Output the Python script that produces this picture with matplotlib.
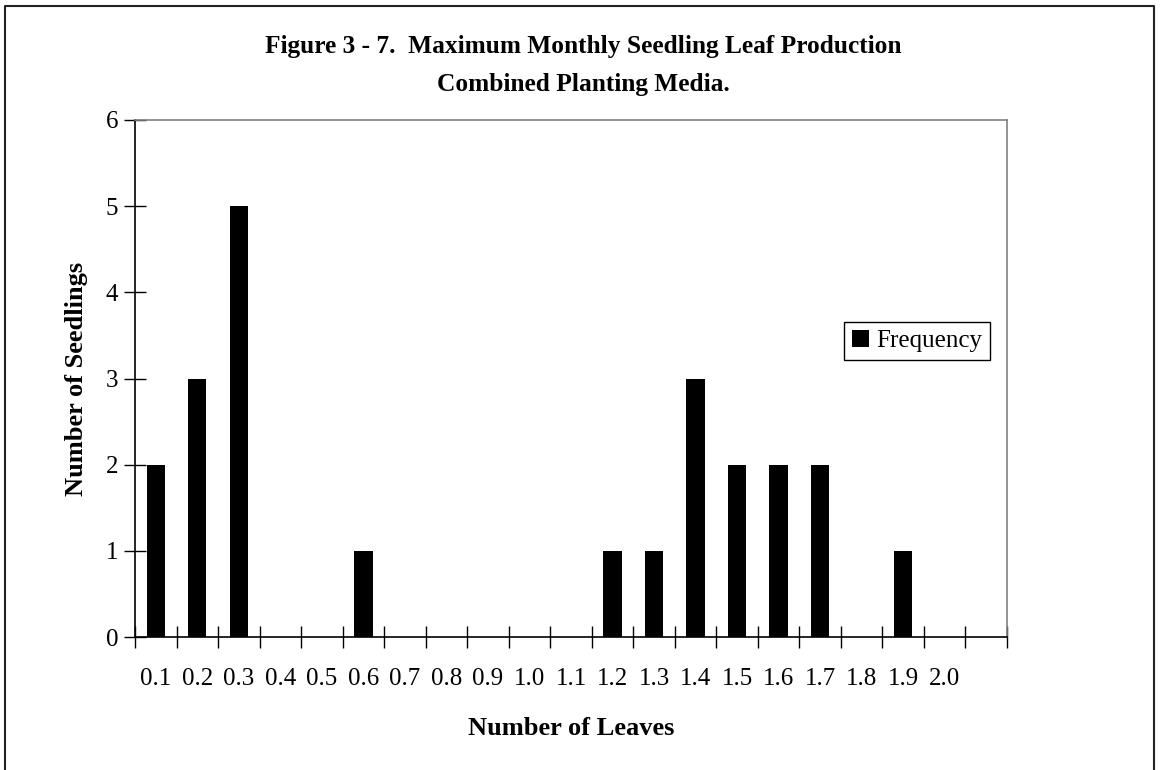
import matplotlib
matplotlib.use("Agg")
import matplotlib.pyplot as plt
from matplotlib.lines import Line2D
import numpy as np

plt.rcParams['font.family'] = ['Liberation Serif', 'DejaVu Serif']

# histogram bins (last slot is Excel's empty overflow bin)
categories = ['0.1', '0.2', '0.3', '0.4', '0.5', '0.6', '0.7', '0.8', '0.9', '1.0',
              '1.1', '1.2', '1.3', '1.4', '1.5', '1.6', '1.7', '1.8', '1.9', '2.0', '']
frequency = [2, 3, 5, 0, 0, 1, 0, 0, 0, 0,
             0, 1, 1, 3, 2, 2, 2, 0, 1, 0, 0]

fig = plt.figure(figsize=(11.6, 7.7), dpi=100)
ax = fig.add_axes([135/1160, 1 - 637/770, (1007-135)/1160, (637-120)/770])

x = np.arange(len(categories))
ax.bar(x, frequency, width=0.44, color='black', label='Frequency')

ax.set_xlim(-0.5, len(categories) - 0.5)
ax.set_ylim(0, 6)
ax.set_yticks(range(7))

# ticks at bin edges, labels at bin centres
ax.set_xticks(np.arange(len(categories) + 1) - 0.5)
ax.set_xticklabels([])
ax.set_xticks(x, minor=True)
ax.set_xticklabels(categories, minor=True)
ax.tick_params(axis='x', which='minor', length=0, pad=22, labelsize=18)
ax.tick_params(axis='x', which='major', direction='inout', length=16, width=1)
ax.tick_params(axis='y', direction='inout', length=16, width=1, labelsize=18, pad=4)

for s in ['top', 'right']:
    ax.spines[s].set_color('#808080')
for s in ['left', 'bottom']:
    ax.spines[s].set_color('black')
for s in ax.spines.values():
    s.set_linewidth(1.2)

ax.set_ylabel('Number of Seedlings', fontsize=19, fontweight='bold', labelpad=13)
ax.set_xlabel('Number of Leaves', fontsize=19, fontweight='bold', labelpad=20)

fig.text(0.503, 1 - 46/770, 'Figure 3 - 7.  Maximum Monthly Seedling Leaf Production',
         ha='center', va='center', fontsize=18.3, fontweight='bold')
fig.text(0.503, 1 - 84/770, 'Combined Planting Media.',
         ha='center', va='center', fontsize=18.3, fontweight='bold')

leg = ax.legend(loc='upper left', bbox_to_anchor=(844/1160, 1 - 322/770),
                bbox_transform=fig.transFigure, fontsize=18, frameon=True,
                fancybox=False, borderaxespad=0, handlelength=0.7, handleheight=0.7,
                handletextpad=0.3, borderpad=0.3, framealpha=1)
leg.get_frame().set_edgecolor('black')
leg.get_frame().set_linewidth(1)

# outer chart border (bottom edge is cut off)
fx0, fx1, fy1 = 5/1160, 1154/1160, 1 - 6/770
fig.add_artist(Line2D([fx0, fx0, fx1, fx1], [0, fy1, fy1, 0],
                      color='#222222', linewidth=1.5, transform=fig.transFigure))

fig.savefig('out.png', dpi=100)
